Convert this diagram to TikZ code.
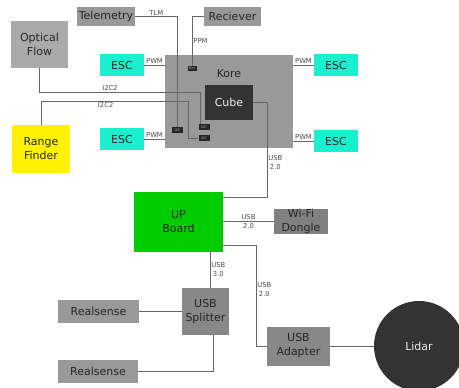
\documentclass[tikz,border=0pt]{standalone}
\usepackage{fontspec}
\setmainfont{DejaVu Sans}

\definecolor{boxgray}{HTML}{999999}
\definecolor{flowgray}{HTML}{AAAAAA}
\definecolor{usbgray}{HTML}{888888}
\definecolor{donglegray}{HTML}{808080}
\definecolor{escaqua}{HTML}{1AF0CF}
\definecolor{upgreen}{HTML}{00CC00}
\definecolor{cubeblack}{HTML}{333333}
\definecolor{wiregray}{HTML}{666666}

\begin{document}
\begin{tikzpicture}[x=1pt, y=-1pt,
		block/.style={fill=boxgray, inner sep=0pt, align=center, text=black!85, font=\fontsize{11}{14}\selectfont},
		port/.style={fill=black!85, text=gray!60, inner sep=0pt, minimum width=11pt, minimum height=6pt, font=\fontsize{3.5}{4}\selectfont},
		wire/.style={draw=wiregray, line width=0.8pt},
		tag/.style={inner sep=1pt, align=center, text=black!70, font=\fontsize{6.8}{9}\selectfont}]
	\useasboundingbox (0,0) rectangle (459,388);

	% Flight controller
	\node[block, minimum width=128pt, minimum height=93pt] (kore) at (229,101.5) {};
	\node[text=black!85, font=\fontsize{11}{14}\selectfont] (koreTag) at (229,74) {Kore};
	\node[block, fill=cubeblack, text=white!85!gray, minimum width=48pt, minimum height=35pt] (cube) at (229,102.5) {Cube};

	% Ports on the Kore
	\node[port, minimum width=9pt, minimum height=5pt] (portRin) at (192,68.5) {Rin};
	\node[port] (portA) at (177.5,130) {I2C};
	\node[port] (portB) at (204,127) {I2C};
	\node[port] (portC) at (204,138) {I2C};

	% Sensors and radio
	\node[block, minimum width=58pt, minimum height=19pt] (telem) at (106,16.5) {Telemetry};
	\node[block, minimum width=57pt, minimum height=19pt] (recv) at (232.5,16.5) {Reciever};
	\node[block, fill=flowgray, minimum width=57pt, minimum height=47pt] (optflow) at (39.5,44.5) {Optical\\Flow};
	\node[block, fill=yellow, minimum width=58pt, minimum height=48pt] (range) at (41,149) {Range\\Finder};

	% Motor controllers
	\node[block, fill=escaqua, minimum width=44pt, minimum height=22pt] (escTL) at (122,65) {ESC};
	\node[block, fill=escaqua, minimum width=44pt, minimum height=22pt] (escBL) at (122,139) {ESC};
	\node[block, fill=escaqua, minimum width=44pt, minimum height=22pt] (escTR) at (336,65) {ESC};
	\node[block, fill=escaqua, minimum width=44pt, minimum height=22pt] (escBR) at (336,141) {ESC};

	% Companion computer and USB devices
	\node[block, fill=upgreen, minimum width=89pt, minimum height=60pt] (upboard) at (178.5,222) {UP\\Board};
	\node[block, fill=donglegray, minimum width=54pt, minimum height=25pt] (wifi) at (301,221.5) {Wi-Fi\\Dongle};
	\node[block, fill=usbgray, minimum width=47pt, minimum height=47pt] (splitter) at (205.5,311.5) {USB\\Splitter};
	\node[block, minimum width=81pt, minimum height=23pt] (rs1) at (98.5,311.5) {Realsense};
	\node[block, minimum width=80pt, minimum height=23pt] (rs2) at (98,371.5) {Realsense};
	\node[block, fill=usbgray, minimum width=63pt, minimum height=39pt] (adapter) at (298.5,346) {USB\\Adapter};
	\node[circle, fill=cubeblack, text=white!85!gray, minimum size=90pt, font=\fontsize{11}{14}\selectfont] (lidar) at (419,346) {Lidar};

	% Bends
	\coordinate (optBend) at (200,92);
	\coordinate (rngBend) at (188,101);
	\coordinate (cubeBend) at (267,197);
	\coordinate (adpBend) at (256,245);

	% Connections
	\draw[wire] (telem.east) -| node[tag, pos=0.25, above] {TLM} (portA.north);
	\draw[wire] (recv.west) -| node[tag, pos=0.75, right] {PPM} (portRin.north);
	\draw[wire] (optflow.south) |- node[tag, pos=0.72, above] {I2C2} (optBend) -- (optBend |- portB.north);
	\draw[wire] (range.north) |- node[tag, pos=0.72, below] {I2C2} (rngBend) |- (portC.west);
	\draw[wire] (escTL.east) -- node[tag, above] {PWM} (escTL.east -| kore.west);
	\draw[wire] (escBL.east) -- node[tag, above] {PWM} (escBL.east -| kore.west);
	\draw[wire] (escTR.west) -- node[tag, above] {PWM} (escTR.west -| kore.east);
	\draw[wire] (escBR.west) -- node[tag, above] {PWM} (escBR.west -| kore.east);
	\draw[wire] (cube.east) -| node[tag, pos=0.82, right] {USB\\2.0} (cubeBend) -- (cubeBend -| upboard.east);
	\draw[wire] (upboard.east |- wifi.west) -- node[tag] {USB\\2.0} (wifi.west);
	\draw[wire] (adpBend -| upboard.east) -- (adpBend) |- node[tag, pos=0.22, right] {USB\\2.0} (adapter.west);
	\draw[wire] (adapter.east) -- (lidar.west);
	\draw[wire] ([xshift=4.5pt]splitter.north |- upboard.south) -- node[tag, right] {USB\\3.0} ([xshift=4.5pt]splitter.north);
	\draw[wire] (rs1.east) -- (splitter.west);
	\draw[wire] (rs2.east) -| ([xshift=7.5pt]splitter.south);
\end{tikzpicture}
\end{document}
